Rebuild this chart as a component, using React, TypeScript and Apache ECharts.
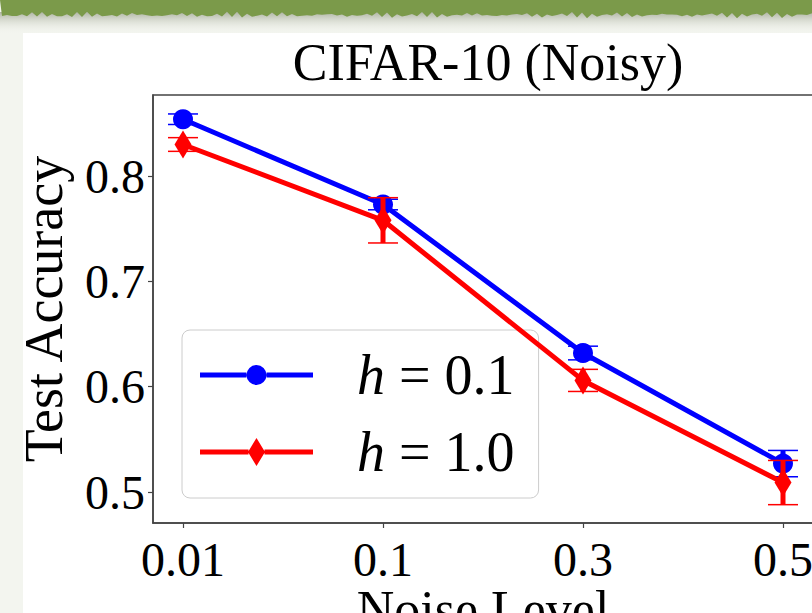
import React, { useEffect, useRef } from 'react';
import * as echarts from 'echarts';

const noiseLevels = ['0.01', '0.1', '0.3', '0.5'];
const accH01 = [0.854, 0.773, 0.632, 0.527];
const errH01 = [0.005, 0.005, 0.0065, 0.0125];
const accH10 = [0.83, 0.758, 0.606, 0.509];
const errH10 = [0.0065, 0.0215, 0.0105, 0.021];
const yTicks = [0.5, 0.6, 0.7, 0.8];
const xTicks = [0, 1, 2, 3];
const seriesNames = ['h = 0.1', 'h = 1.0'];

const FONT = "'Liberation Serif', 'DejaVu Serif', serif";
const BLUE = '#0000ff';
const RED = '#ff0000';
const AXIS = '#444444';

const circleIcon =
  'path://M0 0 L0.01 0 L0 0.01 Z M113 28 L112.99 28 L113 27.99 Z ' +
  'M0 11.5 L46.5 11.5 L46.5 16.5 L0 16.5 Z M66.5 11.5 L113 11.5 L113 16.5 L66.5 16.5 Z ' +
  'M46.5 14 A10 10 0 1 1 66.5 14 A10 10 0 1 1 46.5 14 Z';
const diamondIcon =
  'path://M0 11.5 L48.5 11.5 L48.5 16.5 L0 16.5 Z M64.5 11.5 L113 11.5 L113 16.5 L64.5 16.5 Z ' +
  'M48 14 L56.5 0 L65 14 L56.5 28 Z';

function jaggedEdge(): number[][] {
  const pts: number[][] = [[0, 0], [812, 0]];
  for (let x = 812; x >= 0; x -= 5) {
    const y = 15 + 1.6 * Math.sin(x * 0.71) + 1.2 * Math.sin(x * 1.93) + 0.8 * Math.sin(x * 0.13);
    pts.push([x, y]);
  }
  return pts;
}

export default function App() {
  const ref = useRef<HTMLDivElement>(null);
  useEffect(() => {
    const chart = echarts.init(ref.current!, null, { renderer: 'svg' });
    const errData = (acc: number[], err: number[]) => acc.map((v, i) => [xTicks[i], v, err[i]]);
    const renderErr = (color: string) => (params: any, api: any) => {
      const x = api.value(0);
      const y = api.value(1);
      const e = api.value(2);
      const top = api.coord([x, y + e]);
      const bot = api.coord([x, y - e]);
      const hw = 15;
      return {
        type: 'group',
        children: [
          { type: 'line', shape: { x1: top[0], y1: top[1], x2: bot[0], y2: bot[1] }, style: { stroke: color, lineWidth: 5 } },
          { type: 'line', shape: { x1: top[0] - hw, y1: top[1], x2: top[0] + hw, y2: top[1] }, style: { stroke: color, lineWidth: 1.5 } },
          { type: 'line', shape: { x1: bot[0] - hw, y1: bot[1], x2: bot[0] + hw, y2: bot[1] }, style: { stroke: color, lineWidth: 1.5 } },
        ],
      };
    };
    const axisCommon = {
      axisLine: { show: true, onZero: false, lineStyle: { color: AXIS, width: 1.5 } },
      splitLine: { show: false },
      nameMoveOverlap: false,
    };
    chart.setOption({
      animation: false,
      backgroundColor: '#f3f5ef',
      graphic: {
        elements: [
          { type: 'rect', z: -10, shape: { x: 0, y: 12, width: 812, height: 22 }, style: { fill: new echarts.graphic.LinearGradient(0, 0, 0, 1, [{ offset: 0, color: 'rgba(90,100,70,0.45)' }, { offset: 1, color: 'rgba(243,245,239,0)' }]) } },
          { type: 'polygon', z: -9, shape: { points: jaggedEdge() }, style: { fill: '#7b9a4a' } },
          { type: 'rect', z: -8, shape: { x: 23, y: 33, width: 800, height: 600 }, style: { fill: '#ffffff' } },
        ],
      },
      title: {
        text: 'CIFAR-10 (Noisy)',
        left: 483,
        top: 31,
        textAlign: 'center',
        textStyle: { fontFamily: FONT, fontSize: 52, fontWeight: 'normal', color: '#000' },
      },
      grid: {
        left: 153, top: 95, width: 660, height: 428,
        outerBoundsMode: 'none', containLabel: false,
        show: true, borderColor: AXIS, borderWidth: 1.5, backgroundColor: 'transparent',
      },
      xAxis: {
        type: 'value',
        min: -0.15,
        max: 3.15,
        name: 'Noise Level',
        nameLocation: 'middle',
        nameGap: 66,
        nameTextStyle: { fontFamily: FONT, fontSize: 52, color: '#000', lineHeight: 40 },
        ...axisCommon,
        axisTick: { show: true, length: 5, customValues: xTicks, lineStyle: { color: AXIS, width: 1.2 } },
        axisLabel: { customValues: xTicks, formatter: (v: number) => noiseLevels[Math.round(v)], fontFamily: FONT, fontSize: 48, lineHeight: 36, color: '#000', margin: 18 },
      },
      yAxis: {
        type: 'value',
        min: 0.4706,
        max: 0.877,
        name: 'Test Accuracy',
        nameLocation: 'middle',
        nameGap: 82,
        nameTextStyle: { fontFamily: FONT, fontSize: 54, color: '#000' },
        ...axisCommon,
        axisTick: { show: true, length: 5, customValues: yTicks, lineStyle: { color: AXIS, width: 1.2 } },
        axisLabel: { customValues: yTicks, formatter: (v: number) => v.toFixed(1), fontFamily: FONT, fontSize: 48, color: '#000', margin: 8 },
      },
      legend: {
        orient: 'vertical',
        left: 182,
        top: 330,
        data: [
          { name: seriesNames[0], icon: circleIcon },
          { name: seriesNames[1], icon: diamondIcon },
        ],
        itemWidth: 113,
        itemHeight: 28,
        itemGap: 21,
        padding: [17, 24, 18, 18],
        backgroundColor: 'rgba(255,255,255,0.8)',
        borderColor: '#cccccc',
        borderWidth: 1,
        borderRadius: 8,
        selectedMode: false,
        formatter: (name: string) => name.replace('h', '{i|h}'),
        textStyle: {
          fontFamily: FONT,
          fontSize: 56,
          color: '#000',
          lineHeight: 46,
          padding: [0, 0, 0, 39],
          rich: { i: { fontStyle: 'italic', fontFamily: FONT, fontSize: 56, lineHeight: 46, color: '#000' } },
        },
      },
      series: [
        { type: 'custom', name: 'err0', renderItem: renderErr(BLUE), data: errData(accH01, errH01), encode: { x: 0, y: 1 }, z: 2 },
        { type: 'line', name: seriesNames[0], data: accH01.map((v, i) => [xTicks[i], v]), symbol: 'circle', symbolSize: 20, lineStyle: { color: BLUE, width: 5 }, itemStyle: { color: BLUE }, z: 3 },
        { type: 'custom', name: 'err1', renderItem: renderErr(RED), data: errData(accH10, errH10), encode: { x: 0, y: 1 }, z: 4 },
        { type: 'line', name: seriesNames[1], data: accH10.map((v, i) => [xTicks[i], v]), symbol: 'diamond', symbolSize: [17, 28], lineStyle: { color: RED, width: 5 }, itemStyle: { color: RED }, z: 5 },
      ],
    });
    return () => chart.dispose();
  }, []);
  return <div ref={ref} style={{ position: 'fixed', left: 0, top: 0, width: 812, height: 613 }} />;
}
